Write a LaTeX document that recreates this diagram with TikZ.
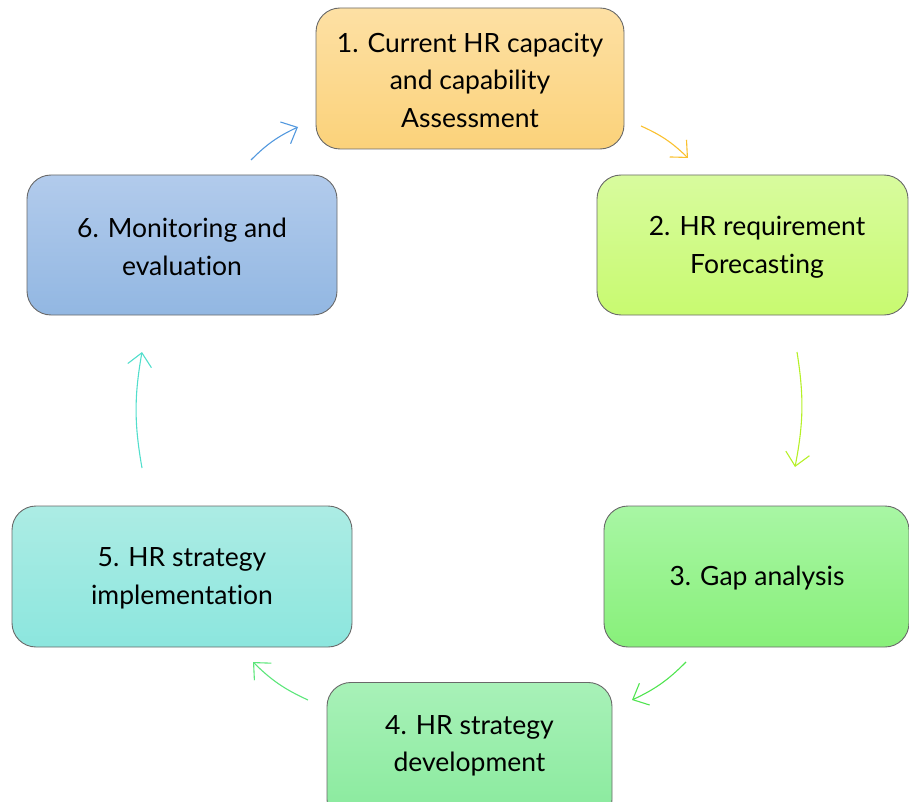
\documentclass[tikz,border=0pt]{standalone}
\usepackage{fontspec}
\setmainfont{Lato}[Ligatures=NoCommon]
\usetikzlibrary{arrows.meta}
\definecolor{o1}{RGB}{253,224,164}\definecolor{o2}{RGB}{251,210,122}
\definecolor{g21}{RGB}{216,251,158}\definecolor{g22}{RGB}{200,250,112}
\definecolor{g31}{RGB}{168,246,164}\definecolor{g32}{RGB}{136,240,122}
\definecolor{g41}{RGB}{168,241,184}\definecolor{g42}{RGB}{136,234,156}
\definecolor{t1}{RGB}{172,236,228}\definecolor{t2}{RGB}{140,230,222}
\definecolor{b1}{RGB}{178,203,236}\definecolor{b2}{RGB}{146,183,226}
\definecolor{ca}{RGB}{250,192,45}\definecolor{cb}{RGB}{182,240,40}
\definecolor{cc}{RGB}{80,228,80}\definecolor{cd}{RGB}{92,230,122}
\definecolor{ce}{RGB}{82,222,204}\definecolor{cf}{RGB}{82,152,222}
\tikzset{
  stage/.style={draw={rgb,255:red,105;green,105;blue,105}, line width=0.9pt, rounded corners=24pt, inner sep=0pt},
  label/.style={align=center, font=\fontsize{26.5}{37.5}\selectfont, inner sep=0pt},
  flow/.style={line width=1.1pt, -{Straight Barb[length=13pt,width=24pt,line width=1.1pt]}, bend left=10}
}
\begin{document}
\begin{tikzpicture}[x=1pt,y=-1pt]
\useasboundingbox (0,0) rectangle (909,802);
\clip (0,0) rectangle (909,802);
\node[stage, top color=o1, bottom color=o2, minimum width=308pt, minimum height=141pt] (n1) at (470,78.5) {};
\node[label] (n1t) at (470,80) {1. Current HR capacity\\and capability\\Assessment};
\node[stage, top color=g21, bottom color=g22, minimum width=311pt, minimum height=140pt] (n2) at (752.5,245) {};
\node[label] (n2t) at (757,247.5) {2. HR requirement\\Forecasting};
\node[stage, top color=g31, bottom color=g32, minimum width=305pt, minimum height=141pt] (n3) at (756.5,576.5) {};
\node[label] (n3t) at (757,578) {3. Gap analysis};
\node[stage, top color=g41, bottom color=g42, minimum width=285pt, minimum height=141pt, anchor=north] (n4) at (469.5,682) {};
\node[label] (n4t) at (469.5,746) {4. HR strategy\\development};
\node[stage, top color=t1, bottom color=t2, minimum width=340pt, minimum height=141pt] (n5) at (182,576.5) {};
\node[label] (n5t) at (182,578.5) {5. HR strategy\\implementation};
\node[stage, top color=b1, bottom color=b2, minimum width=310pt, minimum height=140pt] (n6) at (182,245) {};
\node[label] (n6t) at (182,247) {6. Monitoring and\\evaluation};
\coordinate (a1s) at (641,126); \coordinate (a1e) at (688,158);
\coordinate (a2s) at (797,352); \coordinate (a2e) at (795,467);
\coordinate (a3s) at (686,662); \coordinate (a3e) at (632,700);
\coordinate (a4s) at (308,700); \coordinate (a4e) at (253,662);
\coordinate (a5s) at (142,468); \coordinate (a5e) at (142,352);
\coordinate (a6s) at (251,160); \coordinate (a6e) at (298,127);
\draw[flow, ca] (a1s) to (a1e);
\draw[flow, cb] (a2s) to (a2e);
\draw[flow, cc] (a3s) to (a3e);
\draw[flow, cd] (a4s) to (a4e);
\draw[flow, ce] (a5s) to (a5e);
\draw[flow, cf] (a6s) to (a6e);
\end{tikzpicture}
\end{document}
